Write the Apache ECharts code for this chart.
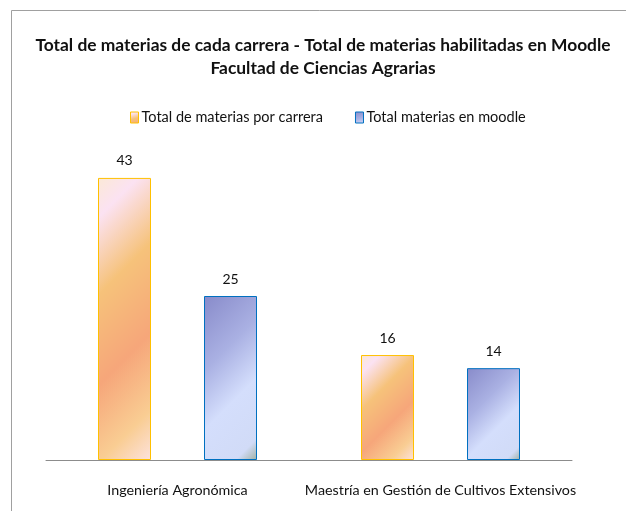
<!DOCTYPE html>
<html>
<head>
<meta charset="utf-8">
<script src="https://cdn.jsdelivr.net/npm/echarts@6/dist/echarts.min.js"></script>
<style>
  html, body { margin: 0; padding: 0; background: #fff; }
  #chart { width: 626px; height: 511px; }
</style>
</head>
<body>
<div id="chart"></div>
<script>
var categories = ["Ingeniería Agronómica", "Maestría en Gestión de Cultivos Extensivos"];
var seriesNames = ["Total de materias por carrera", "Total materias en moodle"];
var totalCarrera = [43, 16];
var totalMoodle = [25, 14];

var FONT = "Lato";
var Y_MAX = 50;
var GRID_H = 328;
var BAR_W = 53;

var orangeStops = [
  { offset: 0, color: "#fbe9d6" },
  { offset: 0.12, color: "#fbe2f2" },
  { offset: 0.35, color: "#f6c27a" },
  { offset: 0.62, color: "#f6a67a" },
  { offset: 0.85, color: "#f9cd93" },
  { offset: 1, color: "#fde2dd" }
];
var blueStops = [
  { offset: 0, color: "#888bca" },
  { offset: 0.35, color: "#aab1e3" },
  { offset: 0.62, color: "#d4defc" },
  { offset: 0.9, color: "#d1dbf7" },
  { offset: 1, color: "#9fb0a2" }
];

// diagonal (45 deg) gradient stretched over each bar
function diagFill(stops, value) {
  var h = Math.max(value * GRID_H / Y_MAX, 1);
  var d = (BAR_W + h) / 2;
  return new echarts.graphic.LinearGradient(0, 0, d / BAR_W, d / h, stops);
}

var labelStyle = {
  show: true,
  position: "top",
  distance: 10,
  color: "#111",
  fontSize: 14,
  fontFamily: FONT
};

var chart = echarts.init(document.getElementById("chart"));
chart.setOption({
  backgroundColor: "#fff",
  animation: false,
  graphic: [
    {
      type: "rect",
      shape: { x: 11.5, y: 10.5, width: 640, height: 520 },
      style: { fill: "none", stroke: "#a0a0a0", lineWidth: 1 }
    }
  ],
  title: {
    text: "Total de materias de cada carrera - Total de materias habilitadas en Moodle\nFacultad de Ciencias Agrarias",
    left: 318,
    textAlign: "center",
    top: 29,
    textStyle: {
      fontFamily: FONT,
      fontWeight: "bold",
      fontSize: 17.4,
      lineHeight: 23,
      color: "#111"
    }
  },
  legend: {
    top: 105,
    left: 125,
    itemGap: 32,
    itemWidth: 8,
    itemHeight: 11,
    icon: "rect",
    textStyle: { fontFamily: FONT, fontSize: 14.5, color: "#111", padding: [0, 0, 0, -2] },
    data: [
      { name: seriesNames[0], itemStyle: { color: diagFill(orangeStops, 3), borderColor: "#ffc000", borderWidth: 1 } },
      { name: seriesNames[1], itemStyle: { color: diagFill(blueStops, 3), borderColor: "#0070c0", borderWidth: 1 } }
    ]
  },
  grid: { left: 46, right: 54, top: 132, bottom: 51 },
  xAxis: {
    type: "category",
    data: categories,
    axisLine: { lineStyle: { color: "#8c8c8c", width: 1 } },
    axisTick: { show: false },
    axisLabel: { fontFamily: FONT, fontSize: 14.3, color: "#111", margin: 23, interval: 0 }
  },
  yAxis: {
    type: "value",
    min: 0,
    max: Y_MAX,
    show: false,
    splitLine: { show: false }
  },
  series: [
    {
      name: seriesNames[0],
      type: "bar",
      data: totalCarrera,
      barWidth: BAR_W,
      barGap: "100%",
      itemStyle: {
        color: function (p) { return diagFill(orangeStops, p.value); },
        borderColor: "#ffc000",
        borderWidth: 1
      },
      label: labelStyle
    },
    {
      name: seriesNames[1],
      type: "bar",
      data: totalMoodle,
      barWidth: BAR_W,
      barGap: "100%",
      itemStyle: {
        color: function (p) { return diagFill(blueStops, p.value); },
        borderColor: "#0070c0",
        borderWidth: 1
      },
      label: labelStyle
    }
  ]
});
</script>
</body>
</html>
